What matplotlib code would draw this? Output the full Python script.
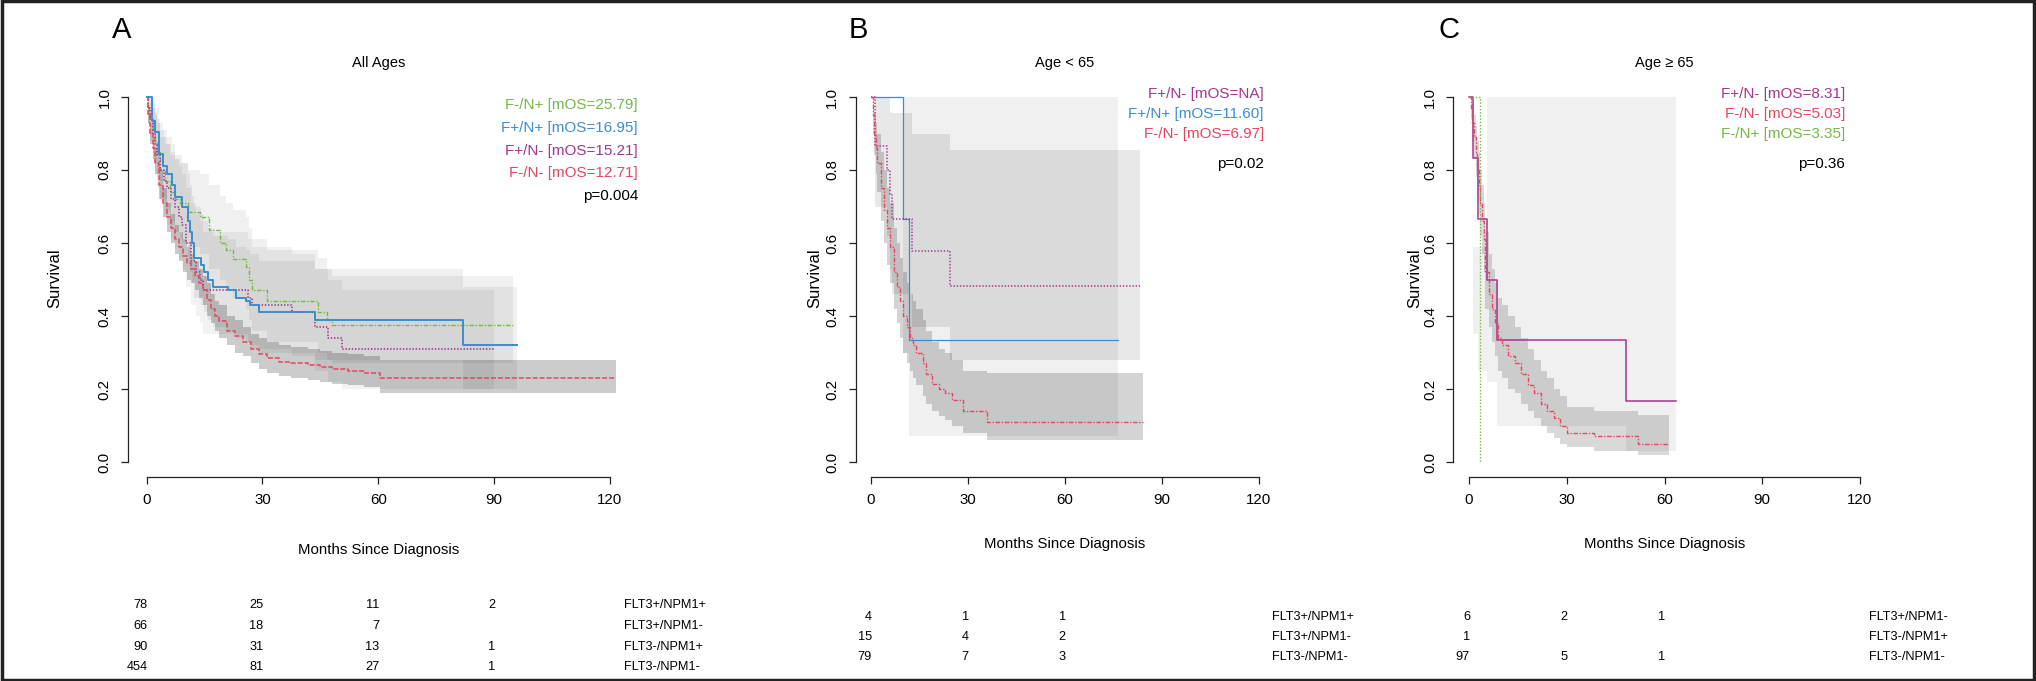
import numpy as np
import matplotlib.pyplot as plt
from matplotlib import font_manager
from matplotlib.patches import Rectangle
from matplotlib.transforms import blended_transform_factory

plt.rcParams['font.family'] = ['Liberation Sans', 'DejaVu Sans']
plt.rcParams['lines.scale_dashes'] = False

# the table and axis title text in the original is condensed
try:
    font_manager.findfont('Liberation Sans Narrow', fallback_to_default=False)
    NARROW, TABLE_FS, XLAB_FS = 'Liberation Sans Narrow', 11, 12.9
except ValueError:
    NARROW, TABLE_FS, XLAB_FS = 'Liberation Sans', 9.2, 10.8

# ---------------- data ----------------
# panel A, all ages
a_green_t = [0, 0.5, 1, 1.6, 2.1, 2.6, 3.4, 4.7, 6.0, 7.3, 8.6, 10.7, 13.8, 16.3, 18.9, 20.5, 22.3, 25.8, 26.6, 27.4, 31.3, 44.5, 46.7, 48.0]
a_green_s = [1.0, 0.97, 0.94, 0.91, 0.88, 0.85, 0.80, 0.77, 0.74, 0.72, 0.71, 0.685, 0.67, 0.635, 0.60, 0.58, 0.555, 0.535, 0.50, 0.47, 0.44, 0.41, 0.39, 0.375]
a_green_lo = [1.0, 0.93, 0.89, 0.85, 0.82, 0.78, 0.72, 0.69, 0.65, 0.63, 0.61, 0.59, 0.57, 0.53, 0.50, 0.47, 0.45, 0.42, 0.39, 0.36, 0.33, 0.30, 0.28, 0.27]
a_green_hi = [1.0, 1.0, 0.99, 0.97, 0.95, 0.93, 0.89, 0.87, 0.84, 0.83, 0.82, 0.80, 0.79, 0.76, 0.73, 0.71, 0.69, 0.67, 0.64, 0.61, 0.58, 0.56, 0.53, 0.51]
a_green_end = 95

a_blue_t = [0, 1.3, 2.2, 3.3, 4.3, 5.2, 6.7, 7.3, 9.3, 10.7, 11.2, 11.9, 12.2, 14.2, 14.8, 15.8, 17.1, 21.0, 23.1, 25.8, 26.7, 29.0, 43.5, 82.0]
a_blue_s = [1.0, 0.935, 0.905, 0.845, 0.81, 0.79, 0.76, 0.727, 0.70, 0.66, 0.63, 0.60, 0.56, 0.54, 0.52, 0.50, 0.48, 0.47, 0.45, 0.44, 0.43, 0.41, 0.39, 0.32]
a_blue_lo = [1.0, 0.88, 0.84, 0.77, 0.72, 0.70, 0.66, 0.63, 0.60, 0.55, 0.52, 0.49, 0.45, 0.43, 0.41, 0.39, 0.37, 0.36, 0.34, 0.33, 0.32, 0.30, 0.28, 0.20]
a_blue_hi = [1.0, 0.99, 0.97, 0.93, 0.91, 0.89, 0.87, 0.84, 0.82, 0.79, 0.76, 0.73, 0.70, 0.68, 0.66, 0.64, 0.62, 0.61, 0.59, 0.58, 0.57, 0.55, 0.53, 0.48]
a_blue_end = 96

a_purple_t = [0, 0.5, 1, 1.6, 2.1, 2.8, 3.4, 4.4, 5.2, 6.3, 7.3, 8.3, 9.1, 10.3, 11.6, 12.8, 13.8, 14.6, 26.2, 27.4, 37.7, 43.7, 47.1, 50.5]
a_purple_s = [1.0, 0.97, 0.94, 0.90, 0.87, 0.84, 0.80, 0.77, 0.75, 0.72, 0.70, 0.67, 0.65, 0.60, 0.55, 0.52, 0.50, 0.47, 0.45, 0.43, 0.41, 0.37, 0.34, 0.31]
a_purple_lo = [1.0, 0.93, 0.88, 0.83, 0.79, 0.75, 0.71, 0.67, 0.65, 0.61, 0.59, 0.56, 0.53, 0.48, 0.43, 0.40, 0.38, 0.35, 0.33, 0.31, 0.29, 0.25, 0.22, 0.20]
a_purple_hi = [1.0, 1.0, 1.0, 0.98, 0.96, 0.94, 0.91, 0.89, 0.87, 0.85, 0.83, 0.81, 0.79, 0.75, 0.71, 0.68, 0.66, 0.63, 0.61, 0.59, 0.57, 0.53, 0.50, 0.47]
a_purple_end = 90

a_red_t = [0, 0.5, 1, 1.6, 2.1, 3.1, 4.2, 5.2, 6.3, 7.3, 8.3, 9.4, 10.4, 11.5, 12.5, 13.6, 14.6, 15.6, 16.7, 17.7, 18.8, 20.9, 22.9, 25.0, 27.1, 29.2, 31.3, 34.4, 37.5, 41.7, 44.8, 48.0, 52.1, 56.3, 60.4]
a_red_s = [1.0, 0.95, 0.90, 0.86, 0.82, 0.76, 0.71, 0.67, 0.64, 0.61, 0.59, 0.565, 0.545, 0.53, 0.51, 0.49, 0.47, 0.445, 0.42, 0.40, 0.385, 0.36, 0.345, 0.33, 0.31, 0.295, 0.285, 0.275, 0.27, 0.265, 0.26, 0.255, 0.25, 0.245, 0.23]
a_red_lo = [1.0, 0.93, 0.87, 0.83, 0.79, 0.72, 0.67, 0.63, 0.60, 0.57, 0.55, 0.52, 0.50, 0.49, 0.47, 0.45, 0.43, 0.40, 0.38, 0.36, 0.34, 0.32, 0.30, 0.29, 0.27, 0.255, 0.245, 0.235, 0.23, 0.225, 0.22, 0.215, 0.21, 0.205, 0.19]
a_red_hi = [1.0, 0.97, 0.93, 0.89, 0.86, 0.80, 0.75, 0.71, 0.68, 0.65, 0.63, 0.61, 0.59, 0.57, 0.55, 0.53, 0.51, 0.49, 0.46, 0.44, 0.43, 0.40, 0.39, 0.37, 0.35, 0.34, 0.33, 0.32, 0.315, 0.31, 0.305, 0.30, 0.295, 0.29, 0.28]
a_red_end = 121.5

# panel B, age < 65
b_purple_t = [0, 1.2, 4.8, 6.0, 6.4, 12.6, 24.4]
b_purple_s = [1.0, 0.867, 0.80, 0.733, 0.667, 0.578, 0.481]
b_purple_lo = [1.0, 0.70, 0.62, 0.53, 0.46, 0.37, 0.28]
b_purple_hi = [1.0, 1.0, 1.0, 0.96, 0.955, 0.90, 0.855]
b_purple_end = 83.2

b_blue_t = [0, 10.0, 11.6]
b_blue_s = [1.0, 0.667, 0.333]
b_blue_lo = [1.0, 0.30, 0.07]
b_blue_hi = [1.0, 1.0, 1.0]
b_blue_end = 76.4

b_red_t = [0, 0.5, 1, 1.5, 2, 3, 4, 5, 6, 7, 8, 9, 10, 11, 12, 13, 14, 16, 17, 19, 21, 23, 25, 28.6, 36]
b_red_s = [1.0, 0.95, 0.90, 0.86, 0.82, 0.75, 0.69, 0.64, 0.59, 0.52, 0.48, 0.44, 0.40, 0.37, 0.34, 0.32, 0.30, 0.27, 0.24, 0.215, 0.20, 0.19, 0.17, 0.14, 0.11]
b_red_lo = [1.0, 0.90, 0.84, 0.79, 0.74, 0.66, 0.60, 0.54, 0.49, 0.42, 0.38, 0.34, 0.30, 0.27, 0.25, 0.23, 0.21, 0.18, 0.16, 0.14, 0.125, 0.115, 0.10, 0.08, 0.06]
b_red_hi = [1.0, 1.0, 0.96, 0.93, 0.90, 0.85, 0.80, 0.75, 0.71, 0.64, 0.60, 0.56, 0.52, 0.49, 0.46, 0.44, 0.42, 0.39, 0.36, 0.33, 0.31, 0.30, 0.28, 0.25, 0.245]
b_red_end = 84

# panel C, age >= 65
c_purple_t = [0, 1.3, 2.6, 5.5, 8.5, 48.1]
c_purple_s = [1.0, 0.833, 0.667, 0.5, 0.333, 0.167]
c_purple_lo = [1.0, 0.35, 0.25, 0.22, 0.10, 0.03]
c_purple_hi = [1.0, 0.59, 0.59, 1.0, 1.0, 1.0]
c_purple_end = 63.5

c_red_t = [0, 0.5, 1, 1.5, 2, 2.5, 3, 3.5, 4, 4.5, 5, 6, 7, 8, 9, 10, 12, 14, 16, 18, 20, 22, 24, 26, 28, 30, 38.5, 52]
c_red_s = [1.0, 0.97, 0.93, 0.89, 0.85, 0.80, 0.76, 0.71, 0.66, 0.61, 0.52, 0.46, 0.42, 0.38, 0.34, 0.32, 0.29, 0.27, 0.24, 0.21, 0.19, 0.16, 0.14, 0.12, 0.10, 0.08, 0.07, 0.05]
c_red_lo = [1.0, 0.94, 0.88, 0.83, 0.78, 0.72, 0.68, 0.62, 0.57, 0.52, 0.42, 0.37, 0.33, 0.29, 0.25, 0.23, 0.20, 0.19, 0.16, 0.14, 0.12, 0.10, 0.08, 0.065, 0.05, 0.04, 0.03, 0.02]
c_red_hi = [1.0, 1.0, 0.98, 0.95, 0.92, 0.88, 0.85, 0.80, 0.76, 0.71, 0.63, 0.57, 0.53, 0.49, 0.45, 0.43, 0.40, 0.37, 0.34, 0.31, 0.28, 0.25, 0.23, 0.20, 0.18, 0.15, 0.14, 0.13]
c_red_end = 61.3

c_green_t = [0, 3.35]
c_green_s = [1.0, 0.0]
c_green_end = 3.35

# legends and numbers at risk
a_legend = ["F-/N+ [mOS=25.79]", "F+/N+ [mOS=16.95]", "F+/N- [mOS=15.21]", "F-/N- [mOS=12.71]"]
b_legend = ["F+/N- [mOS=NA]", "F+/N+ [mOS=11.60]", "F-/N- [mOS=6.97]"]
c_legend = ["F+/N- [mOS=8.31]", "F-/N- [mOS=5.03]", "F-/N+ [mOS=3.35]"]
p_values = ["p=0.004", "p=0.02", "p=0.36"]
titles = ["All Ages", "Age < 65", "Age \u2265 65"]

risk_times = [0, 30, 60, 90]
a_risk_labels = ["FLT3+/NPM1+", "FLT3+/NPM1-", "FLT3-/NPM1+", "FLT3-/NPM1-"]
a_risk = [[78, 25, 11, 2], [66, 18, 7], [90, 31, 13, 1], [454, 81, 27, 1]]
b_risk_labels = ["FLT3+/NPM1+", "FLT3+/NPM1-", "FLT3-/NPM1-"]
b_risk = [[4, 1, 1], [15, 4, 2], [79, 7, 3]]
c_risk_labels = ["FLT3+/NPM1-", "FLT3-/NPM1+", "FLT3-/NPM1-"]
c_risk = [[6, 2, 1], [1], [97, 5, 1]]

# ---------------- styling ----------------
GREEN, BLUE, PURPLE, RED = '#74b846', '#3a8dd2', '#a5358f', '#e6465f'
DASHED = (0, (3.6, 1.4))
DOTTED = (0, (1.0, 1.3))
DASHDOT = (0, (3.2, 1.2, 1.0, 1.2))

W, H = 2036, 681
fig = plt.figure(figsize=(W / 100, H / 100), dpi=100)
TOP, BOT = 82.4, 476.6   # pixel rows of the plot region


def make_axes(left, right):
    ax = fig.add_axes([left / W, 1 - BOT / H, (right - left) / W, (BOT - TOP) / H])
    ax.set_xlim(-4.8, 124.8)
    ax.set_ylim(-0.04, 1.04)
    for s in ['top', 'right']:
        ax.spines[s].set_visible(False)
    ax.spines['left'].set_bounds(0, 1)
    ax.spines['bottom'].set_bounds(0, 120)
    for s in ['left', 'bottom']:
        ax.spines[s].set_linewidth(0.9)
        ax.spines[s].set_color('#222222')
    ax.set_xticks([0, 30, 60, 90, 120])
    ax.set_yticks([0, 0.2, 0.4, 0.6, 0.8, 1.0])
    ax.set_yticklabels(["0.0", "0.2", "0.4", "0.6", "0.8", "1.0"])
    ax.tick_params(length=5.3, width=0.9, color='#222222', labelsize=10.8)
    ax.tick_params(axis='x', pad=6.6)
    ax.tick_params(axis='y', pad=6.5, labelrotation=90)
    for lab in ax.get_yticklabels():
        lab.set_va('center')
    ax.patch.set_alpha(0)
    return ax


def km(ax, t, s, end, color, ls, lw, lo=None, hi=None, alpha=0.1):
    x = list(t) + [end]
    if lo is not None:
        ax.fill_between(x, list(lo) + [lo[-1]], list(hi) + [hi[-1]], step='post',
                        color='k', alpha=alpha, lw=0)
    ax.step(x, list(s) + [s[-1]], where='post', color=color, ls=ls, lw=lw)


def risk_table(ax, labels, counts, rows_px, label_x):
    tr = blended_transform_factory(ax.transData, fig.transFigure)
    for lab, row, ypx in zip(labels, counts, rows_px):
        y = 1 - ypx / H
        for tm, n in zip(risk_times, row):
            ax.text(tm + 0.3, y, str(n), transform=tr, ha='right', va='center',
                    fontsize=TABLE_FS, family=NARROW)
        ax.text(label_x, y, lab, transform=tr, ha='left', va='center',
                fontsize=TABLE_FS, family=NARROW)


def texts(letter, letter_x, surv_x, axis_mid, xlab_y, legend, colors, leg_x, leg_rows, p, p_y, title):
    fig.text(letter_x / W, 1 - 30 / H, letter, fontsize=21, ha='center', va='center')
    fig.text(axis_mid / W, 1 - 63 / H, title, fontsize=10.5, ha='center', va='center')
    fig.text(surv_x / W, 1 - 278 / H, 'Survival', fontsize=12, rotation=90, ha='center', va='center')
    fig.text(axis_mid / W, 1 - xlab_y / H, 'Months Since Diagnosis', fontsize=XLAB_FS,
             family=NARROW, ha='center', va='center')
    for txt, c, y in zip(legend, colors, leg_rows):
        fig.text(leg_x / W, 1 - y / H, txt, color=c, fontsize=11, ha='right', va='center')
    fig.text(leg_x / W, 1 - p_y / H, p, fontsize=11, ha='right', va='center')


# ---------------- panel A ----------------
axA = make_axes(128.0, 628.5)
km(axA, a_green_t, a_green_s, a_green_end, GREEN, DASHDOT, 1.0, a_green_lo, a_green_hi, 0.06)
km(axA, a_purple_t, a_purple_s, a_purple_end, PURPLE, DOTTED, 1.2, a_purple_lo, a_purple_hi, 0.05)
km(axA, a_red_t, a_red_s, a_red_end, RED, DASHED, 1.1, a_red_lo, a_red_hi, 0.2)
km(axA, a_blue_t, a_blue_s, a_blue_end, BLUE, '-', 1.4, a_blue_lo, a_blue_hi, 0.06)
texts('A', 122, 55, 378.3, 550, a_legend, [GREEN, BLUE, PURPLE, RED], 638,
      [105, 128, 151, 173], p_values[0], 196, titles[0])
risk_table(axA, a_risk_labels, a_risk, [605, 626, 646.5, 667], 123.6)

# ---------------- panel B ----------------
axB = make_axes(855.5, 1274.5)
km(axB, b_blue_t, b_blue_s, b_blue_end, BLUE, '-', 0.9, b_blue_lo, b_blue_hi, 0.06)
km(axB, b_purple_t, b_purple_s, b_purple_end, PURPLE, DOTTED, 1.1, b_purple_lo, b_purple_hi, 0.09)
km(axB, b_red_t, b_red_s, b_red_end, RED, DASHDOT, 1.0, b_red_lo, b_red_hi, 0.17)
texts('B', 858, 815, 1065, 544, b_legend, [PURPLE, BLUE, RED], 1264,
      [94, 114, 134], p_values[1], 164, titles[1])
risk_table(axB, b_risk_labels, b_risk, [617, 637, 657], 123.9)

# ---------------- panel C ----------------
axC = make_axes(1453.4, 1875.6)
km(axC, c_purple_t, c_purple_s, c_purple_end, PURPLE, '-', 1.1, c_purple_lo, c_purple_hi, 0.06)
km(axC, c_red_t, c_red_s, c_red_end, RED, DASHDOT, 1.0, c_red_lo, c_red_hi, 0.15)
km(axC, c_green_t, c_green_s, c_green_end, GREEN, DOTTED, 1.0)
texts('C', 1449, 1415, 1664.5, 544, c_legend, [PURPLE, RED, GREEN], 1845,
      [94, 114, 134], p_values[2], 164, titles[2])
risk_table(axC, c_risk_labels, c_risk, [617, 637, 657], 122.9)

# frame around the whole figure
fig.patches.append(Rectangle((0.001, 0.002), 0.998, 0.996, transform=fig.transFigure,
                             fill=False, lw=2.5, edgecolor='#222222'))

fig.savefig('out.png', dpi=100)
